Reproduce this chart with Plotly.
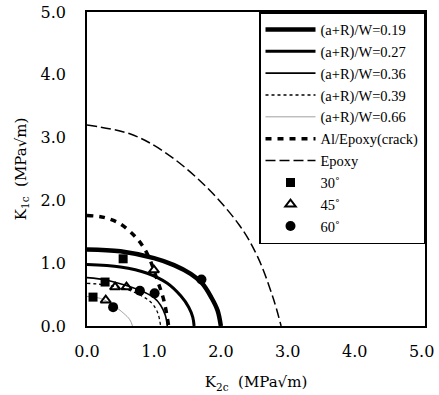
import plotly.graph_objects as go

# ---- data ----
k2_019 = [0.0, 0.5, 1.0, 1.3, 1.55, 1.72, 1.86, 1.95, 2.0]
k1_019 = [1.22, 1.19, 1.08, 0.97, 0.83, 0.68, 0.45, 0.25, 0.0]

k2_027 = [0.0, 0.5, 0.9, 1.2, 1.4, 1.52, 1.58, 1.6]
k1_027 = [0.98, 0.94, 0.84, 0.68, 0.48, 0.3, 0.14, 0.0]

k2_036 = [0.0, 0.3, 0.6, 0.85, 1.0, 1.1, 1.17, 1.2]
k1_036 = [0.77, 0.73, 0.64, 0.54, 0.45, 0.33, 0.17, 0.0]

k2_039 = [0.0, 0.3, 0.6, 0.85, 0.98, 1.06, 1.1]
k1_039 = [0.68, 0.65, 0.58, 0.46, 0.35, 0.2, 0.0]

k2_066 = [0.0, 0.2, 0.39, 0.55, 0.64, 0.68]
k1_066 = [0.47, 0.44, 0.33, 0.2, 0.1, 0.0]

k2_crack = [0.0, 0.25, 0.49, 0.74, 0.9, 1.06, 1.15, 1.22]
k1_crack = [1.76, 1.73, 1.63, 1.4, 1.15, 0.7, 0.4, 0.0]

k2_epoxy = [0.0, 0.64, 1.13, 1.73, 2.28, 2.55, 2.78, 2.9]
k1_epoxy = [3.2, 3.06, 2.79, 2.27, 1.6, 1.1, 0.45, 0.0]

k2_30 = [0.54, 0.27, 0.09]
k1_30 = [1.07, 0.70, 0.46]

k2_45 = [1.0, 0.42, 0.59, 0.28]
k1_45 = [0.89, 0.62, 0.62, 0.41]

k2_60 = [1.71, 0.79, 1.01, 0.39]
k1_60 = [0.74, 0.56, 0.52, 0.30]

x_ticks = [0, 1, 2, 3, 4, 5]
x_tick_labels = ["0.0", "1.0", "2.0", "3.0", "4.0", "5.0"]
y_ticks = [0, 1, 2, 3, 4, 5]
y_tick_labels = ["0.0", "1.0", "2.0", "3.0", "4.0", "5.0"]

WIDE_SERIF = "DejaVu Serif, serif"
SERIF = "Liberation Serif, Times New Roman, serif"

fig = go.Figure()

def curve(x, y, name, width, dash="solid", color="black"):
    fig.add_trace(go.Scatter(x=x, y=y, mode="lines", name=name,
                             line=dict(color=color, width=width, dash=dash, shape="spline")))

curve(k2_019, k1_019, "(a+R)/W=0.19", 4.5)
curve(k2_027, k1_027, "(a+R)/W=0.27", 3)
curve(k2_036, k1_036, "(a+R)/W=0.36", 1.6)
curve(k2_039, k1_039, "(a+R)/W=0.39", 1.3, dash="dot")
curve(k2_066, k1_066, "(a+R)/W=0.66", 0.8, color="#888888")
curve(k2_crack, k1_crack, "Al/Epoxy(crack)", 3.5, dash="6px,6px")
curve(k2_epoxy, k1_epoxy, "Epoxy", 1.5, dash="10px,4px")

fig.add_trace(go.Scatter(x=k2_30, y=k1_30, mode="markers", name="30˚",
                         marker=dict(symbol="square", size=9, color="black")))
fig.add_trace(go.Scatter(x=k2_45, y=k1_45, mode="markers", name="45˚",
                         marker=dict(symbol="triangle-up-open", size=9, color="black",
                                     line=dict(width=2, color="black"))))
fig.add_trace(go.Scatter(x=k2_60, y=k1_60, mode="markers", name="60˚",
                         marker=dict(symbol="circle", size=10, color="black")))

axis_common = dict(showgrid=False, zeroline=False, showline=True, mirror=True,
                   linecolor="black", linewidth=1.5, ticks="", automargin=False,
                   tickfont=dict(family=WIDE_SERIF, size=16, color="black"))

fig.update_layout(
    width=439, height=395,
    margin=dict(l=87, r=14, t=12, b=69),
    paper_bgcolor="white", plot_bgcolor="white",
    font=dict(family=SERIF, color="black"),
    xaxis=dict(range=[0, 5.05], tickvals=x_ticks, ticktext=x_tick_labels,
               ticklabelstandoff=10,
               title=dict(text="K<sub>2c</sub>  (MPa√m)", font=dict(family=WIDE_SERIF, size=15),
                          standoff=17),
               **axis_common),
    yaxis=dict(range=[0, 5], tickvals=y_ticks, ticktext=y_tick_labels,
               ticklabelstandoff=16,
               title=dict(text="K<sub>1c</sub>  (MPa√m)", font=dict(family=WIDE_SERIF, size=15),
                          standoff=10),
               **axis_common),
    legend=dict(x=1, xanchor="right", y=1, yanchor="top",
                bgcolor="white", bordercolor="black", borderwidth=1.5,
                font=dict(family=SERIF, size=14.5, color="black"),
                tracegroupgap=0, itemwidth=50),
    showlegend=True,
)

fig.write_html("out.html", post_script="document.body.style.margin='0';",
               config={"displayModeBar": False})
